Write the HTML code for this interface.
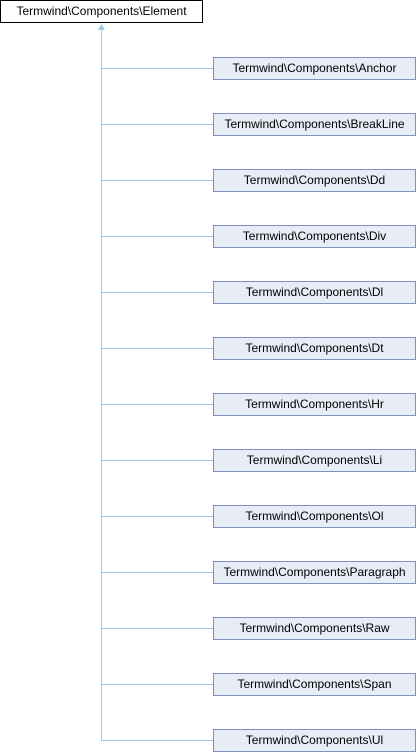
<!DOCTYPE html>
<html><head><style>
body{margin:0;width:416px;height:752px;background:#fff;position:relative;overflow:hidden;font-family:"Liberation Sans",sans-serif;font-size:12px;}
.b{position:absolute;box-sizing:border-box;height:23px;line-height:21px;text-align:center;color:#000;}
.c{left:213px;width:203px;background:#e8ecf6;border:1px solid #7f90c4;}
</style></head><body>
<svg width="416" height="752" style="position:absolute;left:0;top:0">
<line x1="101.5" y1="30" x2="101.5" y2="740.5" stroke="#9ccbe6" stroke-width="1"/>
<polygon points="101.5,24 98,30 105,30" fill="#9ccbe6"/>
<g stroke="#9ccbe6" stroke-width="1">
<line x1="101" y1="68.5" x2="213" y2="68.5"/><line x1="101" y1="124.5" x2="213" y2="124.5"/>
<line x1="101" y1="180.5" x2="213" y2="180.5"/><line x1="101" y1="236.5" x2="213" y2="236.5"/>
<line x1="101" y1="292.5" x2="213" y2="292.5"/><line x1="101" y1="348.5" x2="213" y2="348.5"/>
<line x1="101" y1="404.5" x2="213" y2="404.5"/><line x1="101" y1="460.5" x2="213" y2="460.5"/>
<line x1="101" y1="516.5" x2="213" y2="516.5"/><line x1="101" y1="572.5" x2="213" y2="572.5"/>
<line x1="101" y1="628.5" x2="213" y2="628.5"/><line x1="101" y1="684.5" x2="213" y2="684.5"/>
<line x1="101" y1="740.5" x2="213" y2="740.5"/>
</g></svg>
<div class="b" style="left:0;top:0;width:203px;border:1px solid #000;background:#fff">Termwind\Components\Element</div>
<div class="b c" style="top:57px">Termwind\Components\Anchor</div>
<div class="b c" style="top:113px">Termwind\Components\BreakLine</div>
<div class="b c" style="top:169px">Termwind\Components\Dd</div>
<div class="b c" style="top:225px">Termwind\Components\Div</div>
<div class="b c" style="top:281px">Termwind\Components\Dl</div>
<div class="b c" style="top:337px">Termwind\Components\Dt</div>
<div class="b c" style="top:393px">Termwind\Components\Hr</div>
<div class="b c" style="top:449px">Termwind\Components\Li</div>
<div class="b c" style="top:505px">Termwind\Components\Ol</div>
<div class="b c" style="top:561px">Termwind\Components\Paragraph</div>
<div class="b c" style="top:617px">Termwind\Components\Raw</div>
<div class="b c" style="top:673px">Termwind\Components\Span</div>
<div class="b c" style="top:729px">Termwind\Components\Ul</div>
</body></html>
